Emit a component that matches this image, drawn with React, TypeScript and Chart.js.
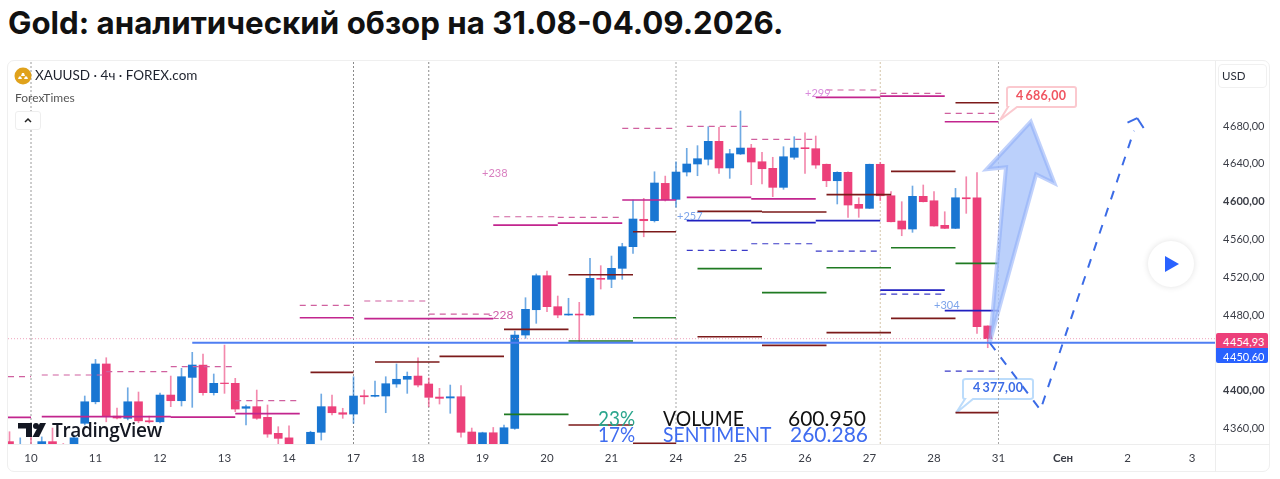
import React, { useEffect, useRef } from "react";
import { Chart, registerables } from "chart.js";

Chart.register(...registerables);

// ---------- candles: 4h bars, bar 0 = the "10" tick ----------
const firstBar = -2;
const opens = [4346,4335,4340,4336,4346,4338,4336,4365.4,4388.2,4428.2,4373,4370.7,4388.2,4368.1,4367,4395.3,4389.3,4414,4427,4397.8,4408,4407.7,4381.3,4383,4371.7,4354.8,4350,4335,4333,4355.9,4383,4376.6,4375.2,4394.6,4394,4394.3,4407,4412,4415.4,4407,4393.2,4392.2,4393.5,4356.2,4335,4355.4,4336,4360,4458.8,4485.6,4521.6,4488.8,4480,4481,4480,4518.8,4517.8,4529.4,4552.3,4581.3,4579.8,4619.3,4602.4,4631.3,4639.8,4644.8,4663.8,4635.6,4650.4,4656.7,4642.2,4635.2,4615.1,4646.9,4657,4656,4639.5,4622.1,4631,4597.1,4592.9,4639.5,4606.2,4579.5,4571,4605.6,4600.9,4574.9,4571.7,4604.1,4604.1,4468.4];
const highs = [4356.5,4350,4351,4351,4360.4,4344,4353,4394.3,4433,4434.8,4381.6,4403,4398.5,4373,4397.4,4415.4,4423.6,4440.5,4438.7,4417.6,4448.2,4413,4384.8,4400.6,4384.8,4361.8,4362.8,4340,4357,4396.4,4395.3,4381.3,4414.7,4400.6,4410.1,4414.7,4428.2,4419.7,4434.8,4413.3,4402.4,4405.9,4405.2,4360.4,4356,4361,4363.6,4463,4498.3,4523.4,4526.6,4500.1,4497.7,4493.4,4540,4532.2,4542.4,4555.9,4601.7,4603.5,4631.6,4627,4642,4656.4,4659.2,4679.3,4678.6,4655.3,4695.9,4660.6,4652.2,4646.9,4658.1,4668.7,4672.9,4669.4,4639.8,4631.6,4631.6,4604.1,4639.7,4641.6,4610.5,4599.9,4616.5,4617.6,4610.5,4589.3,4614,4626.3,4630.6,4468.6];
const lows = [4335,4330,4330,4330,4330,4330,4330,4363.6,4386,4367,4370,4369,4366,4365.7,4365.7,4383,4383.7,4382.3,4395.3,4395.3,4397.1,4377.7,4363.6,4369.6,4350.6,4342.4,4325,4325,4325,4347.7,4374.2,4370.7,4365.4,4385.8,4393.2,4376.6,4403.5,4397.1,4403.8,4383,4385.8,4376,4350.6,4330,4330,4330,4330,4359,4455.3,4471.2,4483.5,4477.1,4479.7,4451.7,4479.5,4507.5,4508.9,4517.8,4545.3,4562.8,4578.4,4600.6,4594,4627.1,4627.4,4638.7,4629.9,4624.6,4649.8,4617.9,4618.6,4605.2,4613,4644.8,4629.9,4635.2,4615.8,4597.5,4583.4,4583.4,4592.7,4600.9,4578.4,4563.9,4567.5,4599.6,4573.9,4571.4,4571.4,4587.6,4460.6,4445.4];
const closes = [4338,4340,4336,4346,4335,4336,4350,4388.2,4428.2,4373,4371,4388.2,4368,4367,4395.3,4389.3,4414.7,4427.1,4397.8,4407.7,4407.4,4380.5,4383,4370.7,4354,4349.5,4335,4332,4355.9,4383,4376.6,4375,4394.3,4393.5,4395,4407.3,4412,4415.1,4405.9,4392.9,4391.8,4393.5,4355.9,4335,4355.4,4336,4360.7,4458.8,4486,4521.6,4488.8,4480,4481,4480,4518.8,4517.8,4529.4,4552.3,4581.6,4579.8,4619.7,4602,4631.3,4639.8,4645.4,4663.8,4635.6,4650.7,4656.7,4641.9,4634.8,4615.1,4647.5,4656.7,4656,4638.7,4622.1,4631,4596.4,4592.9,4639.5,4606.2,4578.7,4571,4605.6,4599.9,4574.2,4571.7,4604.1,4603,4467.6,4454.93];

// ---------- drawn levels: [fromBar, toBar, price] ----------
const leftEdge = -2.14;
const magentaLevels = [[leftEdge,0,4371.7],[1,7,4372.4],[7,13,4372.4],[13,19,4372],[19,25,4375.6],[25,30,4477.1],[31,43,4476.1],[43,49,4575.2],[49,55,4577.3],[55,60,4601.7],[61,67,4604.5],[67,73,4603],[73,79,4710.3],[79,85,4711.7],[85,90,4684.5]];
const magentaDashed = [[leftEdge,0,4414.7],[1,7,4416.5],[7,13,4420],[13,19,4425.3],[19,25,4389.5],[25,30,4490.3],[31,37,4494.8],[37,43,4481],[43,49,4584],[49,55,4583.4],[55,60,4677.5],[61,67,4679.7],[67,73,4665.9],[74,79,4718.1],[79,85,4714.6],[85,90,4693.4]];
const redLevels = [[26,30,4419.3],[32,38,4430.3],[38,44,4436.3],[44,50,4464.9],[50,56,4522.6],[56,60,4568.1],[62,68,4589.7],[68,74,4589],[74,80,4607.3],[80,86,4632],[86,90,4704.6],[50,56,4363.6],[56,60,4344.2],[62,68,4457],[68,74,4447.9],[74,80,4461.3],[80,86,4476.5],[86,90,4376.6]];
const greenLevels = [[44,50,4374.9],[50,56,4452.5],[56,60,4477.1],[62,68,4529],[68,74,4503.6],[74,80,4530],[80,86,4551.2],[86,90,4534.7]];
const navyLevels = [[61,67,4579.8],[67,73,4577.7],[73,79,4579.8],[79,85,4506.4],[85,90,4484.6]];
const navyDashed = [[61,67,4548.5],[67,73,4555.4],[73,79,4547.7],[79,85,4502.2],[85,90,4420.7]];

// ---------- other drawings ----------
const sessionBreaks = [[0,"#9a9a9a"],[30,"#8a8a8a"],[37,"#8a8a8a"],[60,"#a8a8a8"],[79,"#d4c4a8"],[90,"#a8a8a8"]];
const lastPrice = 4454.93;
const bluePrice = 4450.6;
const blueLineStart = 15;
const arrowX = [89.2,90.7,88.9,93.0,95.2,93.5,89.2];
const arrowP = [4451.4,4636.3,4634.2,4684.5,4619.4,4628.9,4451.4];
const forecastX = [89.2,93.9,102.6];
const forecastP = [4450.4,4379.5,4675];
const forecastHeadLeftX = [102,102.9];
const forecastHeadLeftP = [4683.5,4688.4];
const forecastHeadRightX = [102.9,103.5];
const forecastHeadRightP = [4688.4,4677.9];

// ---------- axes ----------
const xTickBars = [0,6,12,18,24,30,36,42,48,54,60,66,72,78,84,90,96,102,108];
const xTickLabels = ["10","11","12","13","14","17","18","19","20","21","24","25","26","27","28","31","Сен","2","3"];
const xBoldLabels = ["Сен"];
const yTickValues = [4360,4400,4480,4520,4560,4600,4640,4680];
const yTickLabels = ["4\u200a360,00","4\u200a400,00","4\u200a480,00","4\u200a520,00","4\u200a560,00","4\u200a600,00","4\u200a640,00","4\u200a680,00"];
const yBoldValues = [4400,4600];
const xMax = 110.14;
const yMin = 4343.5;
const yMax = 4748.8;

const PINK = "#ec407a";
const BLUE = "#1976d2";
const AXIS_FONT = "Lato, 'Noto Sans', sans-serif";

const levelPoints = (list: number[][]) =>
  list.flatMap(([a, b, p]) => [{ x: a, y: p }, { x: b, y: p }, { x: b, y: null }]);

const levelDataset = (list: number[][], color: string, dash: number[] = [], width = 1.7) => ({
  type: "line" as const,
  data: levelPoints(list),
  borderColor: color,
  borderWidth: width,
  borderDash: dash,
  pointRadius: 0,
  spanGaps: false,
  order: 5,
});

const dashedArrowPart = (xs: number[], ys: number[], dash: number[]) => ({
  type: "line" as const,
  data: xs.map((x, i) => ({ x, y: ys[i] })),
  borderColor: "#3b6be6",
  borderWidth: 2,
  borderDash: dash,
  pointRadius: 0,
  order: 2,
});

const zip = (xs: number[], ys: number[]) => xs.map((x, i) => ({ x, y: ys[i] }));

const Text = ({ x, y, squeeze = 1, style, children }: any) => (
  <div
    style={{
      position: "absolute",
      left: x,
      top: y,
      transform: `translateY(-50%) scaleX(${squeeze})`,
      transformOrigin: "left center",
      whiteSpace: "nowrap",
      lineHeight: 1,
      fontFamily: "Lato, 'Noto Sans', sans-serif",
      ...style,
    }}
  >
    {children}
  </div>
);

export default function App() {
  const ref = useRef<HTMLCanvasElement>(null);

  useEffect(() => {
    const bars = opens.map((_, i) => i + firstBar);
    const isUp = (i: number) => closes[i] >= opens[i];
    const chart = new Chart(ref.current as HTMLCanvasElement, {
      type: "bar",
      data: {
        datasets: [
          {
            label: "bodies",
            data: bars.map((x, i) => ({ x, y: [opens[i], closes[i]] })),
            backgroundColor: bars.map((_, i) => (isUp(i) ? BLUE : PINK)),
            barThickness: 8,
            grouped: false,
            borderWidth: 0,
            order: 9,
          },
          {
            label: "wicks",
            data: bars.map((x, i) => ({ x, y: [lows[i], highs[i]] })),
            backgroundColor: bars.map((_, i) =>
              isUp(i) ? "rgba(25,118,210,0.62)" : "rgba(236,64,122,0.62)"
            ),
            barThickness: 1,
            grouped: false,
            borderWidth: 0,
            order: 10,
          },
          ...sessionBreaks.map(([bar, color]) => ({
            type: "line" as const,
            data: [{ x: bar, y: yMin }, { x: bar, y: yMax }],
            borderColor: color,
            borderWidth: 1,
            borderDash: [2, 2],
            pointRadius: 0,
            order: 11,
          })),
          levelDataset(magentaDashed, "#d0609f", [6, 5], 1.2),
          levelDataset(magentaLevels, "#c2258e"),
          levelDataset(redLevels, "#7c1a1a"),
          levelDataset(greenLevels, "#1f7a22"),
          levelDataset(navyDashed, "#3a3ac8", [6, 5], 1.2),
          levelDataset(navyLevels, "#2020c0"),
          {
            type: "line" as const,
            data: [{ x: leftEdge, y: lastPrice }, { x: xMax, y: lastPrice }],
            borderColor: "#efa3bd",
            borderWidth: 1,
            borderDash: [1, 2],
            pointRadius: 0,
            order: 4,
          },
          {
            type: "line" as const,
            data: [{ x: blueLineStart, y: bluePrice }, { x: xMax, y: bluePrice }],
            borderColor: "#4f7ef2",
            borderWidth: 2,
            pointRadius: 0,
            order: 4,
          },
          {
            type: "line" as const,
            data: zip(arrowX, arrowP),
            borderColor: "rgba(140,172,248,0.55)",
            backgroundColor: "rgba(170,196,250,0.8)",
            borderWidth: 4,
            borderJoinStyle: "miter",
            fill: "shape",
            pointRadius: 0,
            tension: 0,
            order: 3,
          },
          dashedArrowPart(forecastX, forecastP, [9, 9]),
          dashedArrowPart(forecastHeadLeftX, forecastHeadLeftP, []),
          dashedArrowPart(forecastHeadRightX, forecastHeadRightP, []),
        ] as any,
      },
      options: {
        responsive: false,
        animation: false,
        events: [],
        layout: { padding: { left: 8, top: 61, right: 0, bottom: 0 } },
        plugins: { legend: { display: false }, tooltip: { enabled: false } },
        scales: {
          x: {
            type: "linear",
            min: leftEdge,
            max: xMax,
            offset: false,
            grid: { display: false, drawTicks: false },
            border: { display: false },
            afterBuildTicks: (axis: any) => {
              axis.ticks = xTickBars.map((value) => ({ value }));
            },
            afterFit: (axis: any) => {
              axis.height = 35;
            },
            ticks: {
              autoSkip: false,
              maxRotation: 0,
              padding: 7,
              color: "#3a3d46",
              font: (ctx: any) => ({
                family: AXIS_FONT,
                size: 11.5,
                weight: xBoldLabels.includes(xTickLabels[xTickBars.indexOf(ctx.tick?.value)]) ? "700" : "400",
              }),
              callback: (v: any) => xTickLabels[xTickBars.indexOf(Number(v))],
            },
          },
          y: {
            type: "linear",
            position: "right",
            min: yMin,
            max: yMax,
            grid: { display: false, drawTicks: false },
            border: { display: false },
            afterBuildTicks: (axis: any) => {
              axis.ticks = yTickValues.map((value) => ({ value }));
            },
            afterFit: (axis: any) => {
              axis.width = 65;
            },
            ticks: {
              autoSkip: false,
              padding: 8,
              color: "#3a3d46",
              font: (ctx: any) => ({
                family: AXIS_FONT,
                size: 11,
                weight: yBoldValues.includes(ctx.tick?.value) ? "700" : "400",
              }),
              callback: (v: any) => yTickLabels[yTickValues.indexOf(Number(v))],
            },
          },
        },
      },
    } as any);
    return () => chart.destroy();
  }, []);

  return (
    <div style={{ position: "fixed", left: 0, top: 0, width: 1280, height: 479, overflow: "hidden", background: "#fff" }}>
      <Text x={8} y={24} style={{ fontFamily: "Inter, 'Noto Sans', sans-serif", fontWeight: 700, fontSize: 31.25, color: "#111" }}>
        Gold: аналитический обзор на 31.08-04.09.2026.
      </Text>

      {/* panel frame */}
      <div style={{ position: "absolute", left: 7, top: 60, width: 1263, height: 412, border: "1px solid #efefef", borderRadius: 7, boxSizing: "border-box" }} />
      <div style={{ position: "absolute", left: 1215, top: 61, width: 1, height: 411, background: "#ededed" }} />
      <div style={{ position: "absolute", left: 8, top: 444, width: 1262, height: 1, background: "#ededed" }} />

      {/* callouts sit below the canvas */}
      <svg width={1280} height={479} style={{ position: "absolute", left: 0, top: 0 }}>
        <path d="M1010 87 H1074 Q1076 87 1076 89 V105 Q1076 107 1074 107 H1017 L1000 120 L1008 107 Q1007 107 1007 105 V89 Q1007 87 1010 87 Z" fill="#fff" stroke="#fbc9cf" strokeWidth="2" />
        <path d="M966 379 H1030 Q1033 379 1033 381 V397 Q1033 399 1030 399 H973 L956 413 L965 399 Q963 399 963 397 V381 Q963 379 966 379 Z" fill="#fff" stroke="#bcdcfb" strokeWidth="2" />
      </svg>

      <canvas ref={ref} width={1280} height={479} style={{ position: "absolute", left: 0, top: 0, display: "block" }} />

      {/* legend */}
      <svg width={18} height={18} style={{ position: "absolute", left: 14, top: 67 }}>
        <circle cx="9" cy="9" r="8.5" fill="#e0a21c" />
        <path d="M4 12 H8 L7 9.5 H5 Z M10 12 H14 L13 9.5 H11 Z M7 9 H11 L10 6 H8 Z" fill="#fff" />
      </svg>
      <Text x={35} y={76} style={{ fontSize: 13.5, color: "#1e222d" }}>XAUUSD · 4ч · FOREX.com</Text>
      <Text x={15} y={98} style={{ fontSize: 12, color: "#555" }}>ForexTimes</Text>
      <div style={{ position: "absolute", left: 15, top: 111, width: 26, height: 19, border: "1px solid #eee", borderRadius: 3, boxSizing: "border-box", background: "#fff" }}>
        <svg width={24} height={17}>
          <path d="M9 10 L12 7 L15 10" fill="none" stroke="#222" strokeWidth="1.5" />
        </svg>
      </div>

      {/* USD box */}
      <div style={{ position: "absolute", left: 1218, top: 64, width: 49, height: 24, border: "1px solid #f0f0f0", borderRadius: 4, boxSizing: "border-box" }} />
      <Text x={1222} y={76} style={{ fontSize: 11.5, color: "#2a2e39" }}>USD</Text>

      {/* level annotations */}
      <Text x={482} y={172} style={{ fontSize: 11, color: "#d97fc0" }}>+238</Text>
      <Text x={488} y={315} style={{ fontSize: 12, color: "#cf5ea8" }}>-228</Text>
      <Text x={805} y={92} style={{ fontSize: 11, color: "#d98bdc" }}>+299</Text>
      <Text x={677} y={215} style={{ fontSize: 11, color: "#7da4ea" }}>+257</Text>
      <Text x={934} y={304} style={{ fontSize: 11, color: "#7da4ea" }}>+304</Text>

      {/* callout texts */}
      <Text x={1016} y={96} style={{ fontSize: 12.5, fontWeight: 700, color: "#f05561", letterSpacing: 0.3 }}>4{"\u2009"}686,00</Text>
      <Text x={973} y={388} style={{ fontSize: 12.5, fontWeight: 700, color: "#3b6be6", letterSpacing: 0.3 }}>4{"\u2009"}377,00</Text>

      {/* stats */}
      <Text x={598} y={416.5} squeeze={0.9} style={{ fontSize: 21, color: "#2aa58c" }}>23%</Text>
      <Text x={598} y={432.5} squeeze={0.9} style={{ fontSize: 21, color: "#3f6cf0" }}>17%</Text>
      <Text x={663} y={416.5} squeeze={0.92} style={{ fontSize: 21, color: "#111" }}>VOLUME</Text>
      <Text x={663} y={432.5} squeeze={0.92} style={{ fontSize: 21, color: "#3f6cf0" }}>SENTIMENT</Text>
      <Text x={788} y={416.5} style={{ fontSize: 21, color: "#111" }}>600.950</Text>
      <Text x={790} y={432.5} style={{ fontSize: 21, color: "#3f6cf0" }}>260.286</Text>

      {/* axis price tags */}
      <div style={{ position: "absolute", left: 1216, top: 333, width: 52, height: 15, background: PINK, borderRadius: "2px 2px 0 0" }} />
      <div style={{ position: "absolute", left: 1216, top: 348, width: 52, height: 15, background: "#2962ff", borderRadius: "0 0 2px 2px" }} />
      <Text x={1223} y={340.5} style={{ fontSize: 11, color: "#fff" }}>4{"\u200a"}454,93</Text>
      <Text x={1223} y={355.5} style={{ fontSize: 11, color: "#fff" }}>4{"\u200a"}450,60</Text>

      {/* TradingView logo */}
      <svg width={30} height={16} style={{ position: "absolute", left: 17, top: 422 }}>
        <path d="M1 1 H15 V15 H9 V6.5 H1 Z" fill="#131722" />
        <circle cx="19" cy="4" r="3" fill="#131722" />
        <path d="M23 1 H29 L22 15 H15.5 Z" fill="#131722" />
      </svg>
      <Text x={52} y={430} style={{ fontSize: 19, fontWeight: 600, color: "#131722", fontFamily: "'Open Sans', sans-serif", letterSpacing: -0.3 }}>TradingView</Text>

      {/* play button */}
      <div style={{ position: "absolute", left: 1148, top: 241, width: 46, height: 46, borderRadius: 23, background: "#fff", boxShadow: "0 0 6px rgba(0,0,0,0.12)" }}>
        <svg width={46} height={46}>
          <path d="M17 15 L31 23 L17 31 Z" fill="#2962ff" />
        </svg>
      </div>
    </div>
  );
}
